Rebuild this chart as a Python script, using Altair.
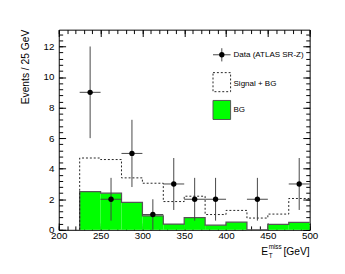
import altair as alt
import pandas as pd

# ---- data ----
bin_lo = [225, 250, 275, 300, 325, 350, 375, 400, 425, 450, 475]
bin_hi = [250, 275, 300, 325, 350, 375, 400, 425, 450, 475, 500]
bg_vals = [2.5, 2.4, 1.8, 0.92, 0.38, 0.8, 0.3, 0.5, 0.0, 0.35, 0.48]
sig_bg_vals = [4.7, 4.6, 3.4, 3.05, 1.85, 2.2, 1.0, 1.27, 0.77, 1.03, 2.05]

data_x = [237.5, 262.5, 287.5, 312.5, 337.5, 362.5, 387.5, 437.5, 487.5]
data_xlo = [225, 250, 275, 300, 325, 350, 375, 425, 475]
data_xhi = [250, 275, 300, 325, 350, 375, 400, 450, 500]
data_y = [9, 2, 5, 1, 3, 2, 2, 2, 3]
data_lo = [6.0, 0.6, 2.8, 0.0, 1.3, 0.6, 0.6, 0.6, 1.3]
data_hi = [12.0, 3.4, 7.2, 2.0, 4.7, 3.4, 3.4, 3.4, 4.7]

x_domain = [200, 500]
y_domain = [0, 13.1]
x_major = [200, 250, 300, 350, 400, 450, 500]
x_minor = list(range(200, 501, 10))
y_major = [0, 2, 4, 6, 8, 10, 12]
y_minor = [round(i * 0.4, 1) for i in range(0, 33)]

legend_labels = ["Data (ATLAS SR-Z)", "Signal + BG", "BG"]
y_title = "Events / 25 GeV"

FONT = "Liberation Sans"

# ---- tables ----
bins = pd.DataFrame({"lo": bin_lo, "hi": bin_hi, "bg": bg_vals, "sig": sig_bg_vals})
bg_step = pd.DataFrame({"x": [bin_lo[0]] + bin_lo + [bin_hi[-1]],
                        "y": [0] + bg_vals + [bg_vals[-1]]})
sig_step = pd.DataFrame({"x": [bin_lo[0]] + bin_lo + [bin_hi[-1]],
                         "y": [0] + sig_bg_vals + [sig_bg_vals[-1]]})
pts = pd.DataFrame({"x": data_x, "xlo": data_xlo, "xhi": data_xhi,
                    "y": data_y, "lo": data_lo, "hi": data_hi})

xs = alt.Scale(domain=x_domain, nice=False, zero=False)
ys = alt.Scale(domain=y_domain, nice=False)


def ax(orient, values, size, labels=False, **kw):
    return alt.Axis(orient=orient, values=values, tickSize=size, offset=-size,
                    domain=False, grid=False, labels=labels, title=None,
                    tickColor="black", tickWidth=1, labelFlush=False,
                    labelOverlap=False, labelFont=FONT, labelFontSize=10,
                    labelColor="black", **kw)


bg_rect = alt.Chart(bins).mark_rect(color="#00ff00").encode(
    x=alt.X("lo:Q", scale=xs, axis=ax("bottom", x_major, 7, labels=True, labelPadding=1, format="d")),
    x2="hi:Q",
    y=alt.Y("bg:Q", scale=ys, axis=ax("left", y_major, 7, labels=True, labelPadding=5, format="d")),
    y2=alt.datum(0),
)

bg_line = alt.Chart(bg_step).mark_line(interpolate="step-after", color="#555555", strokeWidth=1.3).encode(
    x=alt.X("x:Q", scale=xs, axis=ax("bottom", x_minor, 4)),
    y=alt.Y("y:Q", scale=ys, axis=ax("left", y_minor, 4)),
)

sig_line = alt.Chart(sig_step).mark_line(interpolate="step-after", color="#222222", strokeWidth=1,
                                          strokeDash=[2, 2]).encode(
    x=alt.X("x:Q", scale=xs, axis=ax("top", x_major, 7)),
    y=alt.Y("y:Q", scale=ys, axis=ax("right", y_major, 7)),
)

err_v = alt.Chart(pts).mark_rule(color="#444444", strokeWidth=1).encode(
    x=alt.X("x:Q", scale=xs, axis=ax("top", x_minor, 4)),
    y=alt.Y("lo:Q", scale=ys, axis=ax("right", y_minor, 4)),
    y2="hi:Q",
)

err_h = alt.Chart(pts).mark_rule(color="#444444", strokeWidth=1).encode(
    x=alt.X("xlo:Q", scale=xs, axis=None),
    x2="xhi:Q",
    y=alt.Y("y:Q", scale=ys, axis=None),
)

points = alt.Chart(pts).mark_point(filled=True, color="black", size=30, opacity=1, shape="circle").encode(
    x=alt.X("x:Q", scale=xs, axis=None),
    y=alt.Y("y:Q", scale=ys, axis=None),
)

one = pd.DataFrame({"a": [0]})

# legend
leg_h = alt.Chart(one).mark_rule(color="#444444", strokeWidth=1).encode(
    x=alt.value(158), x2=alt.value(176), y=alt.value(25.7))
leg_v = alt.Chart(one).mark_rule(color="#444444", strokeWidth=1).encode(
    x=alt.value(167), y=alt.value(19), y2=alt.value(32.5))
leg_p = alt.Chart(one).mark_point(filled=True, color="black", size=30, opacity=1, shape="circle").encode(
    x=alt.value(167), y=alt.value(25.7))
leg_sig = alt.Chart(one).mark_rect(fill="white", stroke="#222222", strokeWidth=1, strokeDash=[2, 2]).encode(
    x=alt.value(158), x2=alt.value(176), y=alt.value(44), y2=alt.value(63.5))
leg_bg = alt.Chart(one).mark_rect(fill="#00ff00", stroke="#555555", strokeWidth=1).encode(
    x=alt.value(158), x2=alt.value(176), y=alt.value(72.5), y2=alt.value(92))


def label(txt, x, y, size=8.2, align="left", baseline="middle", angle=0):
    return alt.Chart(one).mark_text(text=txt, font=FONT, fontSize=size, align=align,
                                    baseline=baseline, color="black", angle=angle).encode(
        x=alt.value(x), y=alt.value(y))


leg_t1 = label(legend_labels[0], 179, 25.7)
leg_t2 = label(legend_labels[1], 179, 55.5)
leg_t3 = label(legend_labels[2], 179, 82.5)

ytitle = label(y_title, -33, 0, size=10.5, align="right", angle=270)
xt_e = label("E", 207.5, 231, size=10.5, baseline="alphabetic")
xt_miss = label("miss", 215, 224.5, size=6.5, baseline="alphabetic")
xt_t = label("T", 215, 233.5, size=6.5, baseline="alphabetic")
xt_gev = label("[GeV]", 257, 231, size=10.5, align="right", baseline="alphabetic")

chart = alt.layer(
    bg_rect, bg_line, sig_line, err_v, err_h, points,
    leg_h, leg_v, leg_p, leg_sig, leg_bg, leg_t1, leg_t2, leg_t3,
    ytitle, xt_e, xt_miss, xt_t, xt_gev,
).resolve_axis(x="independent", y="independent").properties(
    width=257, height=205,
    autosize="none",
    padding={"left": 52, "top": 19, "right": 28, "bottom": 40},
).configure(font=FONT).configure_view(stroke="black", strokeWidth=1)

chart.save("out.html", embed_options={"renderer": "svg", "actions": False})
